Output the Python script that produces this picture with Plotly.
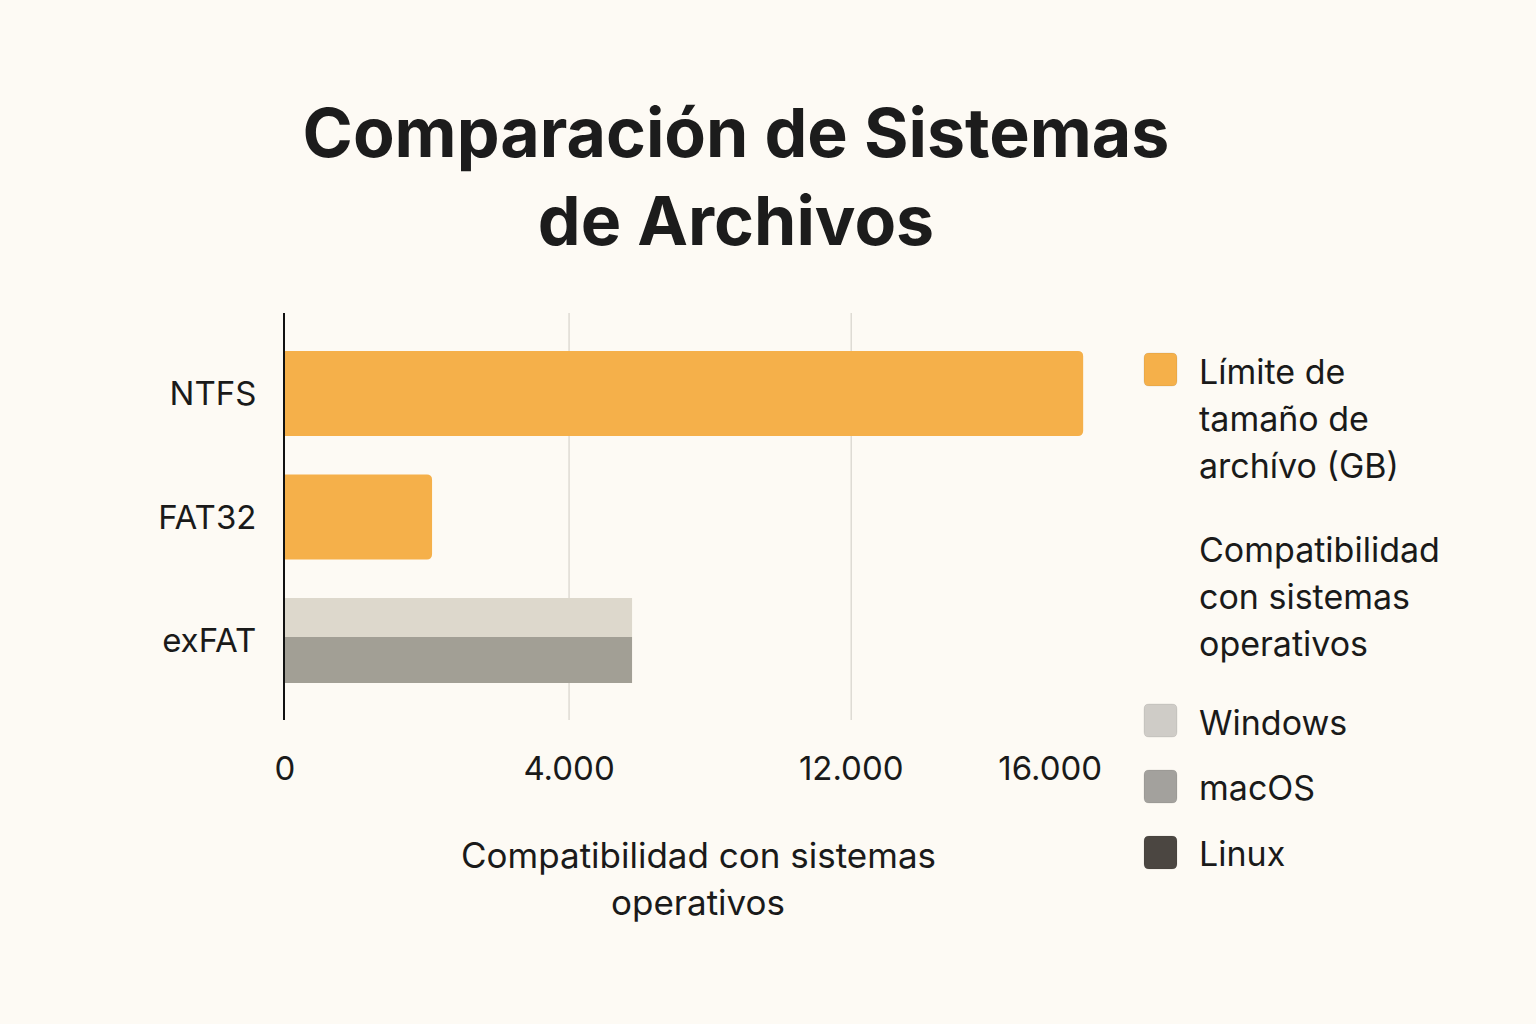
import plotly.graph_objects as go

# ---- data ----
categories = ["NTFS", "FAT32", "exFAT"]
size_cats = ["NTFS", "FAT32"]
size_limit_gb = [16690, 3075]          # Límite de tamaño de archivo (GB)
compat_cat = ["exFAT"]
windows_vals = [7257]
macos_vals = [7257]
linux_vals = [0]
tick_labels = ["0", "4.000", "12.000", "16.000"]
tick_positions = [0, 5940, 11840, 16000]
grid_positions = [5940, 11840]

# ---- styles ----
BG = "#FDFAF4"
ORANGE = "#F5B04A"
WIN_BAR = "#DDD8CC"
MAC_BAR = "#A29F95"
WIN_LEG = "#CFCCC7"
MAC_LEG = "#A3A19D"
LIN_LEG = "#4B4641"
TXT = "#1A1A1A"
FONT = "Inter"

W, H = 1536, 1024
L, R, T, B = 285, 1098, 313, 720   # plot area in px

def px(x):
    return (x - L) / (R - L)

def py(y):
    return (B - y) / (B - T)

fig = go.Figure()
fig.add_trace(go.Bar(
    y=size_cats, x=size_limit_gb, orientation="h", name="Límite de tamaño de archivo (GB)",
    marker=dict(color=ORANGE, line=dict(width=0), cornerradius=5), width=0.69,
    showlegend=False))
fig.add_trace(go.Bar(
    y=compat_cat, x=windows_vals, orientation="h", name="Windows",
    marker=dict(color=WIN_BAR, line=dict(width=0)), width=0.316, offset=-0.344,
    showlegend=False))
fig.add_trace(go.Bar(
    y=compat_cat, x=macos_vals, orientation="h", name="macOS",
    marker=dict(color=MAC_BAR, line=dict(width=0)), width=0.372, offset=-0.028,
    showlegend=False))

shapes = []
for g in grid_positions:
    shapes.append(dict(type="line", xref="x", yref="paper", x0=g, x1=g, y0=0, y1=1,
                       line=dict(color="#DEDBD3", width=1.5), layer="below"))

def rounded_square(x0, y0, s, r, color):
    x1, y1 = x0 + s, y0 + s
    pts = [
        f"M{px(x0 + r)},{py(y0)}",
        f"L{px(x1 - r)},{py(y0)}",
        f"Q{px(x1)},{py(y0)} {px(x1)},{py(y0 + r)}",
        f"L{px(x1)},{py(y1 - r)}",
        f"Q{px(x1)},{py(y1)} {px(x1 - r)},{py(y1)}",
        f"L{px(x0 + r)},{py(y1)}",
        f"Q{px(x0)},{py(y1)} {px(x0)},{py(y1 - r)}",
        f"L{px(x0)},{py(y0 + r)}",
        f"Q{px(x0)},{py(y0)} {px(x0 + r)},{py(y0)}",
        "Z",
    ]
    return dict(type="path", xref="paper", yref="paper", path=" ".join(pts),
                fillcolor=color, line=dict(color="rgba(0,0,0,0.08)", width=1))

shapes.append(rounded_square(1144, 353, 33, 5, ORANGE))
shapes.append(rounded_square(1144, 704, 33, 5, WIN_LEG))
shapes.append(rounded_square(1144, 770, 33, 5, MAC_LEG))
shapes.append(rounded_square(1144, 836, 33, 5, LIN_LEG))

annotations = []
legend_lines = [
    ("Límite de", 371), ("tamaño de", 418), ("archívo (GB)", 465),
    ("Compatibilidad", 549), ("con sistemas", 596), ("operativos", 643),
    ("Windows", 722), ("macOS", 787), ("Linux", 853),
]
for txt, yc in legend_lines:
    annotations.append(dict(text=txt, xref="paper", yref="paper", x=px(1197), y=py(yc),
                            xanchor="left", yanchor="middle", showarrow=False,
                            font=dict(family=FONT, size=34, color=TXT)))

for txt, yc in [("Compatibilidad con sistemas", 855), ("operativos", 902)]:
    annotations.append(dict(text=txt, xref="paper", yref="paper", x=px(698), y=py(yc),
                            xanchor="center", yanchor="middle", showarrow=False,
                            font=dict(family=FONT, size=35, color=TXT)))

fig.update_layout(
    width=W, height=H,
    paper_bgcolor=BG, plot_bgcolor=BG,
    margin=dict(l=L, r=W - R, t=T, b=H - B, pad=0),
    barmode="overlay",
    showlegend=False,
    title=dict(text="<b>Comparación de Sistemas<br>de Archivos</b>",
               x=736 / W, xanchor="center", xref="container",
               y=1 - 157 / H, yanchor="top", yref="container",
               font=dict(family=FONT, size=68, color="#1C1C1C")),
    xaxis=dict(range=[0, 17000], tickmode="array", tickvals=tick_positions, ticktext=tick_labels,
               showgrid=False, zeroline=False, showline=False,
               ticks="outside", ticklen=19, tickcolor="rgba(0,0,0,0)",
               tickfont=dict(family=FONT, size=33, color=TXT)),
    yaxis=dict(categoryorder="array", categoryarray=categories, range=[2.644, -0.652],
               showgrid=False, zeroline=False, showline=True, linecolor="#111111", linewidth=2,
               ticks="outside", ticklen=20, tickcolor="rgba(0,0,0,0)",
               tickfont=dict(family=FONT, size=33, color=TXT)),
    shapes=shapes,
    annotations=annotations,
)

fig.write_html("out.html")
